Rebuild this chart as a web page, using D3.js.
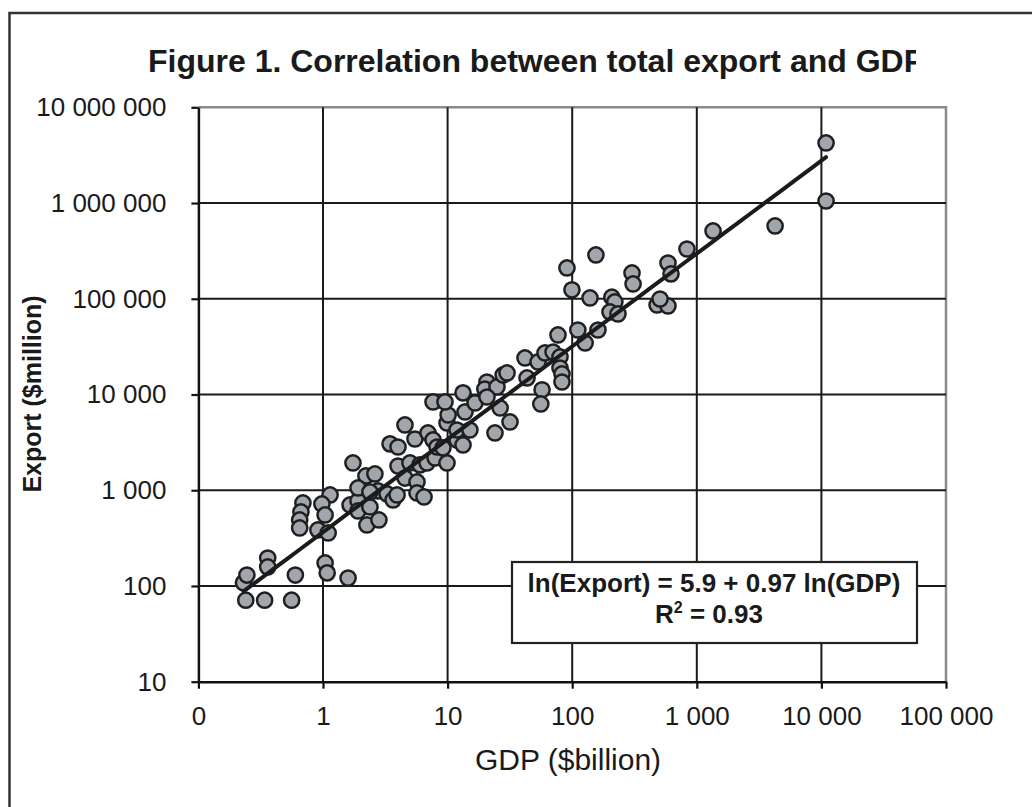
<!DOCTYPE html>
<html>
<head>
<meta charset="utf-8">
<script src="https://cdn.jsdelivr.net/npm/d3@7"></script>
<style>
  html, body { margin: 0; padding: 0; background: #fff; }
  svg { display: block; font-family: "Liberation Sans", Arial, Helvetica, sans-serif; }
</style>
</head>
<body>
<svg id="chart" width="1032" height="807"></svg>
<script>
// GDP ($billion) and total export ($million), one entry per country
const gdp = [
  0.23, 0.245, 0.24, 0.34, 0.56, 0.36, 0.36, 0.60, 1.04, 1.08,
  1.59, 0.69, 0.665, 0.65, 0.65, 1.14, 0.98, 1.04, 0.91, 1.10,
  1.65, 1.91, 1.91, 2.38, 2.25, 2.81, 1.74, 2.21, 2.61, 1.91,
  2.76, 2.38, 3.27, 3.65, 3.93, 3.45, 4.00, 4.55, 5.47, 6.96,
  7.64, 4.00, 4.55, 5.68, 5.68, 6.47, 4.99, 6.00, 6.84, 7.93,
  9.89, 8.23, 11.9, 13.3, 9.89, 10.1, 7.64, 9.53, 13.3, 13.8,
  11.9, 15.1, 9.18, 16.6, 20.7, 19.9, 24.9, 20.7, 27.9, 26.4,
  31.7, 24.0, 41.8, 43.4, 53.2, 60.5, 57.3, 56.0, 30.0, 70.2,
  76.9, 79.8, 79.8, 82.8, 82.8, 111, 161, 127, 90.8, 155,
  99.5, 139, 208, 220, 201, 233, 302, 308, 587, 621,
  834, 1350, 480, 587, 507, 4250, 10900, 10900
];
const exportValue = [
  108, 130, 71, 71, 71, 196, 158, 130, 174, 137,
  121, 737, 593, 490, 404, 893, 719, 552, 385, 358,
  702, 773, 608, 669, 434, 490, 1930, 1410, 1480, 1057,
  984, 960, 915, 792, 893, 3050, 2830, 4810, 3430, 3970,
  3350, 1790, 1340, 1220, 937, 851, 1930, 1840, 1930, 2170,
  1930, 2830, 3350, 2970, 5050, 6110, 8360, 8360, 10400, 6570,
  4260, 4260, 2770, 8160, 13500, 11400, 12000, 9420, 16000, 7240,
  5170, 3970, 24100, 14900, 21900, 27200, 11200, 7970, 16800, 27800,
  41900, 24700, 18900, 16400, 13500, 47200, 47200, 34500, 210000, 287000,
  124000, 102000, 104000, 92600, 72800, 69400, 186000, 143000, 236000, 182000,
  331000, 511000, 86100, 84100, 99500, 576000, 4240000, 1050000
];

// Axis ticks and their printed labels
const xTickValues = [0.1, 1, 10, 100, 1000, 10000, 100000];
const xTickLabels = ["0", "1", "10", "100", "1 000", "10 000", "100 000"];
const yTickValues = [10, 100, 1000, 10000, 100000, 1000000, 10000000];
const yTickLabels = ["10", "100", "1 000", "10 000", "100 000", "1 000 000", "10 000 000"];

// Log-log regression: ln(Export) = a + b ln(GDP)
const fitIntercept = 5.9;
const fitSlope = 0.97;
const rSquared = 0.93;

const titleText = "Figure 1. Correlation between total export and GDP";
const xTitle = "GDP ($billion)";
const yTitle = "Export ($million)";

const svg = d3.select("#chart");
const plot = { left: 198.4, right: 946, top: 107.3, bottom: 681.7 };

const x = d3.scaleLog().domain([xTickValues[0], xTickValues[xTickValues.length - 1]])
  .range([plot.left, plot.right]);
const y = d3.scaleLog().domain([yTickValues[0], yTickValues[yTickValues.length - 1]])
  .range([plot.bottom, plot.top]);

svg.append("rect").attr("width", 1032).attr("height", 807).attr("fill", "#fff");

// outer frame (runs past the right and bottom edges)
svg.append("rect")
  .attr("x", 9.5).attr("y", 13).attr("width", 1100).attr("height", 900)
  .attr("fill", "none").attr("stroke", "#333").attr("stroke-width", 2.5);

// title, clipped at the right like the text box it sits in
svg.append("clipPath").attr("id", "titleClip")
  .append("rect").attr("x", 0).attr("y", 0).attr("width", 916).attr("height", 100);
svg.append("text")
  .attr("clip-path", "url(#titleClip)")
  .attr("x", 148).attr("y", 72)
  .attr("font-size", 32).attr("font-weight", "bold").attr("fill", "#1a1a1a")
  .text(titleText);

// plot area border (top and right)
svg.append("path")
  .attr("d", `M${plot.left},${plot.top}H${plot.right}V${plot.bottom}`)
  .attr("fill", "none").attr("stroke", "#8a8a8a").attr("stroke-width", 2.5);

// gridlines
const grid = svg.append("g").attr("stroke", "#1a1a1a").attr("stroke-width", 2);
grid.selectAll("line.vx").data(xTickValues.slice(1, -1)).join("line")
  .attr("x1", d => x(d)).attr("x2", d => x(d))
  .attr("y1", plot.top).attr("y2", plot.bottom);
grid.selectAll("line.hy").data(yTickValues.slice(1, -1)).join("line")
  .attr("y1", d => y(d)).attr("y2", d => y(d))
  .attr("x1", plot.left).attr("x2", plot.right);

// axes
const xAxis = d3.axisBottom(x).tickValues(xTickValues)
  .tickFormat((d, i) => xTickLabels[i]).tickSizeInner(7).tickSizeOuter(0).tickPadding(18);
const yAxis = d3.axisLeft(y).tickValues(yTickValues)
  .tickFormat((d, i) => yTickLabels[i]).tickSizeInner(7).tickSizeOuter(0).tickPadding(25);

function styleAxis(g) {
  g.select(".domain").attr("stroke", "#111").attr("stroke-width", 2.5);
  g.selectAll(".tick line").attr("stroke", "#111").attr("stroke-width", 2.2);
  g.selectAll(".tick text").attr("fill", "#1a1a1a")
    .attr("font-size", 26).attr("font-family", "Liberation Sans, Arial, sans-serif");
}
svg.append("g").attr("transform", `translate(0,${plot.bottom})`).call(xAxis).call(styleAxis);
svg.append("g").attr("transform", `translate(${plot.left},0)`).call(yAxis).call(styleAxis);

// data points
const points = gdp.map((g, i) => ({ g, e: exportValue[i] }));
svg.append("g").selectAll("circle").data(points).join("circle")
  .attr("cx", d => x(d.g)).attr("cy", d => y(d.e)).attr("r", 7.6)
  .attr("fill", "#a1a5ac").attr("stroke", "#1f1f1f").attr("stroke-width", 2.5);

// fitted trend line over the GDP range of the data
const gExtent = d3.extent(gdp);
const fit = g => Math.exp(fitIntercept + fitSlope * Math.log(g));
const line = d3.line().x(d => x(d)).y(d => y(fit(d)));
svg.append("path")
  .datum(d3.range(0, 41).map(k => gExtent[0] * Math.pow(gExtent[1] / gExtent[0], k / 40)))
  .attr("d", line)
  .attr("fill", "none").attr("stroke", "#1b1b1b").attr("stroke-width", 4)
  .attr("stroke-linecap", "round");

// equation box
const eq = svg.append("g");
eq.append("rect").attr("x", 512).attr("y", 562).attr("width", 405).attr("height", 81)
  .attr("fill", "#fff").attr("stroke", "#222").attr("stroke-width", 2.2);
eq.append("text").attr("x", 714).attr("y", 592).attr("text-anchor", "middle")
  .attr("font-size", 26).attr("font-weight", "bold").attr("fill", "#1a1a1a")
  .text(`ln(Export) = ${fitIntercept} + ${fitSlope} ln(GDP)`);
const r2 = eq.append("text").attr("x", 709).attr("y", 623).attr("text-anchor", "middle")
  .attr("font-size", 26).attr("font-weight", "bold").attr("fill", "#1a1a1a");
r2.append("tspan").text("R");
r2.append("tspan").attr("font-size", 16).attr("dy", -10).text("2");
r2.append("tspan").attr("dy", 10).text(` = ${rSquared}`);

// axis titles
svg.append("text").attr("x", 568).attr("y", 770).attr("text-anchor", "middle")
  .attr("font-size", 30).attr("fill", "#1a1a1a").text(xTitle);
svg.append("text").attr("transform", "translate(41,394) rotate(-90)")
  .attr("text-anchor", "middle").attr("font-size", 25).attr("font-weight", "bold")
  .attr("fill", "#1a1a1a").text(yTitle);
</script>
</body>
</html>
